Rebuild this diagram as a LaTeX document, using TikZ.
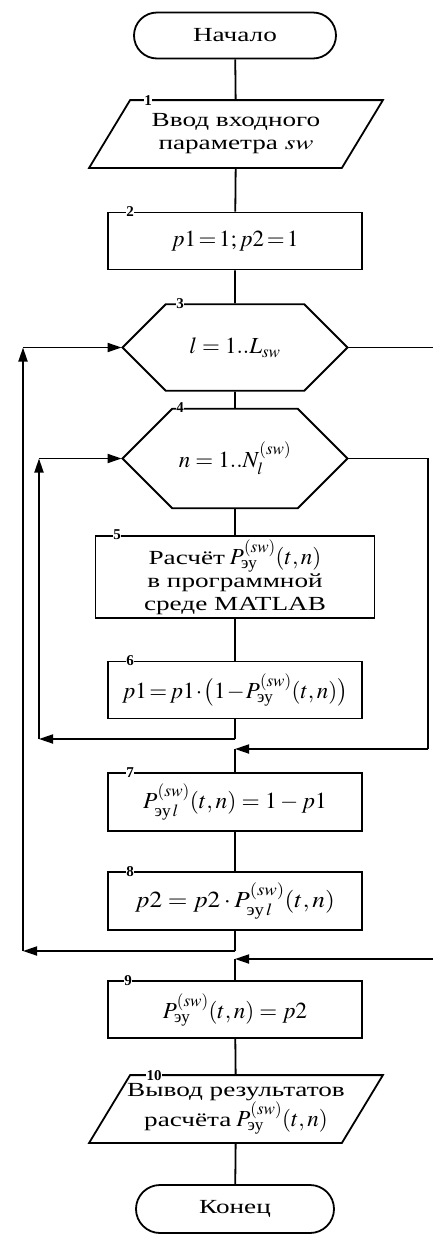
\documentclass[tikz,border=0pt]{standalone}
\usepackage{amsmath}
\usepackage{mathptmx}
\usepackage[no-math]{fontspec}
\setmainfont{Liberation Serif}
\usepackage{graphicx}
\usetikzlibrary{arrows.meta,positioning,shapes.misc}

\newcommand{\tx}[1]{\scalebox{1.36}[1]{#1}}
\newcommand{\mx}[2][1]{\scalebox{#1}[1]{\fontsize{23}{25}\selectfont$#2$}}
\newcommand{\tight}{\thickmuskip=2mu\medmuskip=1mu}
\newcommand{\Pey}{P^{(sw)}_{\text{эу}}}

\tikzset{
  base/.style={draw, line width=1.8pt, inner sep=0pt, font=\fontsize{20}{23}\selectfont},
  term/.style={base, rounded rectangle, minimum width=202pt, minimum height=46pt},
  io/.style={base, draw=none, rectangle, minimum width=251pt, minimum height=66pt, align=center},
  proc/.style={base, rectangle, minimum width=254pt, minimum height=57pt, align=center},
  loopbox/.style={base, chamfered rectangle, chamfered rectangle xsep=38pt,
    chamfered rectangle ysep=33.5pt, minimum width=225pt, minimum height=67pt},
  num/.style={fill=white, inner sep=0.6pt, font=\bfseries\fontsize{15}{15}\selectfont},
  arr/.style={-{Triangle[length=14pt,width=9pt]}},
}

\begin{document}
\begin{tikzpicture}[x=1pt, y=-1pt, line width=1.8pt]
    \useasboundingbox (0,0) rectangle (433,1235);
    \clip (0,0) rectangle (433,1235);
    % Blocks
    \node[term] (start) at (235,35.5) {\tx{Начало}};
    \node[io] (b1) at (236,134) {\tx{Ввод входного}\\\tx{параметра $sw$}};
    \node[proc] (b2) at (235,241) {\mx{\tight p1=1;p2=1}};
    \node[loopbox] (b3) at (235,347.5) {\mx{l=1..L_{sw}}};
    \node[loopbox] (b4) at (235,458.5) {\mx{n=1..N_l^{(sw)}}};
    \node[proc, minimum width=279pt, minimum height=82pt] (b5) at (235,577)
        {\tx{Расчёт}\hspace{5pt}\mx{\Pey(t,n)}\\\tx{в программной}\\\tx{среде MATLAB}};
    \node[proc] (b6) at (235,690) {\mx{\tight p1=p1\cdot\bigl(1-\Pey(t,n)\bigr)}};
    \node[proc, minimum height=58pt] (b7) at (235,802) {\mx[1.02]{P^{(sw)}_{\text{эу}\,l}(t,n)=1-p1}};
    \node[proc, minimum height=58pt] (b8) at (235,901) {\mx[1.1]{p2=p2\cdot P^{(sw)}_{\text{эу}\,l}(t,n)}};
    \node[proc] (b9) at (235,1009.5) {\mx{\Pey(t,n)=p2}};
    \node[io] (b10) at (236,1109) {\tx{Вывод результатов}\\\tx{расчёта} \mx{\Pey(t,n)}};
    \node[term, minimum width=198pt, minimum height=48pt] (end) at (235,1209) {\tx{Конец}};
    % Parallelogram outlines
    \foreach \b in {b1,b10}
        \draw ([xshift=-20.5pt]\b.south west) -- ([xshift=20.5pt]\b.north west)
            -- ([xshift=20.5pt]\b.north east) -- ([xshift=-20.5pt]\b.south east) -- cycle;
    % Numbers
    \node[num] at ([xshift=-88pt]b1.north) {1};
    \node[num] at ([xshift=-105pt]b2.north) {2};
    \node[num] at ([xshift=-55pt]b3.north) {3};
    \node[num] at ([xshift=-55pt]b4.north) {4};
    \node[num] at ([xshift=-118pt]b5.north) {5};
    \node[num] at ([xshift=-105pt]b6.north) {6};
    \node[num] at ([xshift=-105pt]b7.north) {7};
    \node[num] at ([xshift=-105pt]b8.north) {8};
    \node[num] at ([xshift=-107pt]b9.north) {9};
    \node[num] at ([xshift=-82pt]b10.north) {10};
    % Corner points
    \coordinate (c6) at (235,739);
    \coordinate (c6l) at (39,739);
    \coordinate (c4l) at (39,458.5);
    \coordinate (c4r) at (428,458.5);
    \coordinate (c7r) at (428,749);
    \coordinate (c7) at (235,749);
    \coordinate (c8) at (235,951);
    \coordinate (c8l) at (23,951);
    \coordinate (c3l) at (23,347.5);
    \coordinate (c3r) at (445,347.5);
    \coordinate (c9r) at (445,959);
    \coordinate (c9) at (235,959);
    % Arrows
    \draw (start) -- (b1);
    \draw (b1) -- (b2);
    \draw (b2) -- (b3);
    \draw (b3) -- (b4);
    \draw (b4) -- (b5);
    \draw (b5) -- (b6);
    \draw (b6.south) -- (c6);
    \draw[arr] (c6) -- (c6l);
    \draw[arr] (c6l) -- (c4l);
    \draw[arr] (c4l) -- (b4.west);
    \draw (b4.east) -- (c4r) -- (c7r);
    \draw[arr] (c7r) -- (c7);
    \draw (c7) -- (b7.north);
    \draw (b7) -- (b8);
    \draw (b8.south) -- (c8);
    \draw[arr] (c8) -- (c8l);
    \draw[arr] (c8l) -- (c3l);
    \draw[arr] (c3l) -- (b3.west);
    \draw (b3.east) -- (c3r) -- (c9r);
    \draw[arr] (c9r) -- (c9);
    \draw (c9) -- (b9.north);
    \draw (b9) -- (b10);
    \draw (b10) -- (end);
\end{tikzpicture}
\end{document}
